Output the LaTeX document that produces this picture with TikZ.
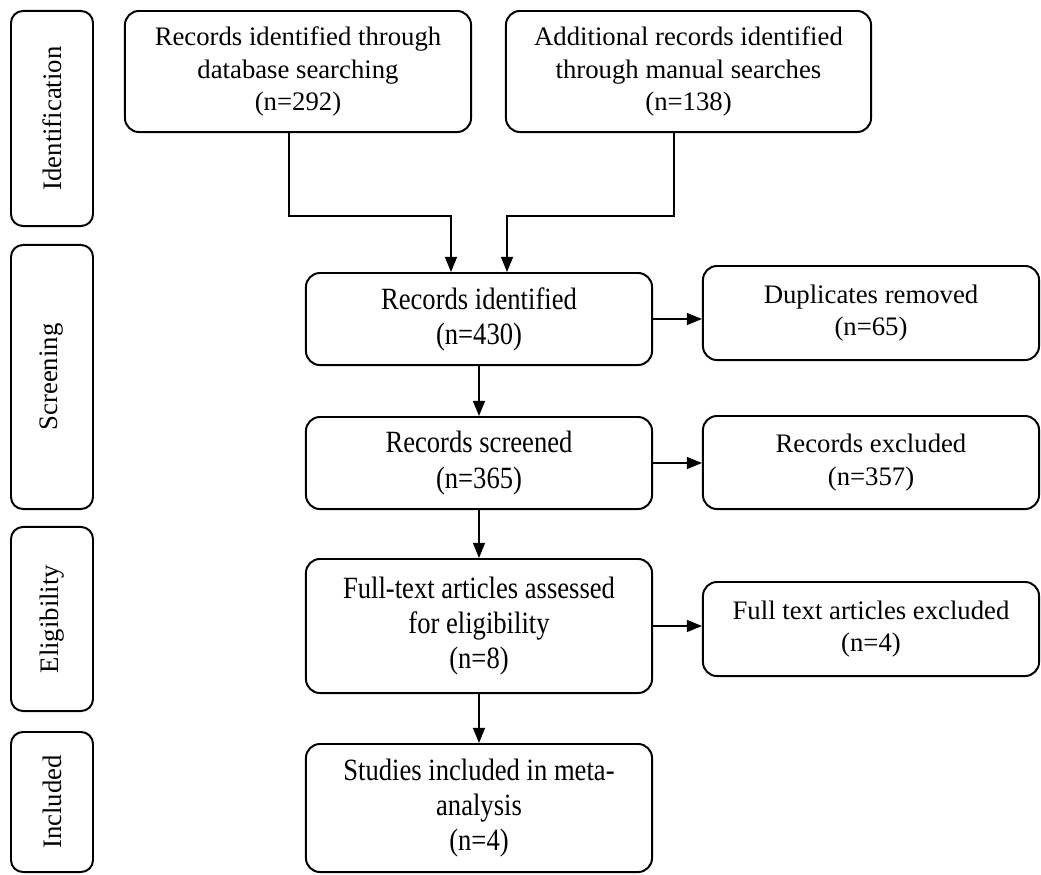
\documentclass[tikz,border=0pt]{standalone}
\usepackage{fontspec}
\setmainfont{Liberation Serif}
\newfontfamily\narrowserif{Liberation Serif}[FakeStretch=0.86]
\usepackage{tikz}
\usetikzlibrary{positioning}
\usetikzlibrary{arrows.meta}

\tikzset{
  stage/.style={draw, line width=1.4pt, rounded corners=0.35cm, align=center, inner sep=0pt},
  tall/.style={font=\narrowserif\fontsize{22}{25}\selectfont},
  phase/.style={draw, line width=1.4pt, rounded corners=0.3cm, inner sep=0pt,
    minimum width=2.05cm, rotate=90},
  flow/.style={-{Triangle[length=0.38cm, width=0.3cm]}, line width=1.2pt}
}

\begin{document}
\begin{tikzpicture}[x=0.025cm, y=-0.025cm, font=\fontsize{19}{23}\selectfont]
    \useasboundingbox (0,0) rectangle (1041,875);

    % Phases
    \node[phase, minimum width=5.375cm, minimum height=2.05cm] (ident) at (52,118.5) {Identification};
    \node[phase, minimum width=6.6cm, minimum height=2.05cm] (screen) at (52,377) {Screening};
    \node[phase, minimum width=4.6cm, minimum height=2.05cm] (elig) at (52,619) {Eligibility};
    \node[phase, minimum width=3.5cm, minimum height=2.05cm] (incl) at (52,802) {Included};

    % Sources
    \node[stage, minimum width=8.65cm, minimum height=3.025cm] (dbsearch) at (298,71.5)
      {Records identified through\\database searching\\(n=292)};
    \node[stage, minimum width=9.125cm, minimum height=3.025cm] (manual) at (688.5,71.5)
      {Additional records identified\\through manual searches\\(n=138)};

    % Main column
    \node[stage, tall, minimum width=8.65cm, minimum height=2.3cm] (recid) at (479,319)
      {Records identified\\(n=430)};
    \node[stage, tall, minimum width=8.65cm, minimum height=2.3cm] (screened) at (479,463)
      {Records screened\\(n=365)};
    \node[stage, tall, minimum width=8.65cm, minimum height=3.35cm] (fulltext) at (479,626)
      {Full-text articles assessed\\for eligibility\\(n=8)};
    \node[stage, tall, minimum width=8.65cm, minimum height=3.2cm] (included) at (479,808)
      {Studies included in meta-\\analysis\\(n=4)};

    % Exclusions
    \node[stage, minimum width=8.4cm, minimum height=2.35cm] (dupl) at (871,313)
      {Duplicates removed\\(n=65)};
    \node[stage, minimum width=8.4cm, minimum height=2.325cm] (excl) at (871,462.5)
      {Records excluded\\(n=357)};
    \node[stage, minimum width=8.4cm, minimum height=2.35cm] (ftexcl) at (871,629)
      {Full text articles excluded\\(n=4)};

    % Merging arrows
    \draw[flow] ([xshift=-0.225cm]dbsearch.south) |- ([xshift=-0.7cm, yshift=1.4cm]recid.north)
      -- ([xshift=-0.7cm]recid.north);
    \draw[flow] ([xshift=-0.3625cm]manual.south) |- ([xshift=0.7cm, yshift=1.4cm]recid.north)
      -- ([xshift=0.7cm]recid.north);

    % Down the column
    \draw[flow] (recid.south) -- (screened.north);
    \draw[flow] (screened.south) -- (fulltext.north);
    \draw[flow] (fulltext.south) -- (included.north);

    % Side arrows
    \draw[flow] (recid.east) -- (recid.east -| dupl.west);
    \draw[flow] (screened.east) -- (screened.east -| excl.west);
    \draw[flow] (fulltext.east) -- (fulltext.east -| ftexcl.west);
  \end{tikzpicture}
\end{document}
